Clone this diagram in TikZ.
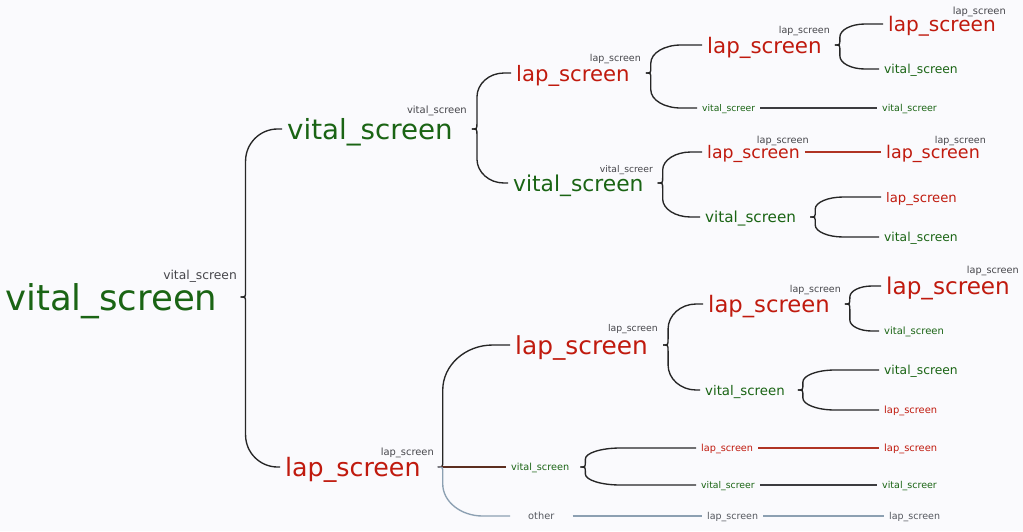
\documentclass[tikz,border=0pt]{standalone}
\usepackage{fontspec}
\setmainfont{DejaVu Sans}
\usetikzlibrary{calc}
\definecolor{lapred}{RGB}{192,26,14}
\definecolor{vitalgreen}{RGB}{26,100,20}
\definecolor{taggray}{RGB}{70,70,75}
\definecolor{othergray}{RGB}{85,88,95}
\definecolor{pagebg}{RGB}{250,250,253}
\definecolor{redline}{RGB}{176,52,36}
\definecolor{greyline}{RGB}{60,60,64}
\definecolor{blueline}{RGB}{140,160,178}
\definecolor{brownline}{RGB}{92,46,32}

\begin{document}
\begin{tikzpicture}[x=1pt, y=1pt,
  word/.style={anchor=west, inner xsep=5pt, inner ysep=0pt, text depth=0pt, font=\fontsize{#1}{#1}\selectfont},
  lap/.style={word=#1, text=lapred},
  vital/.style={word=#1, text=vitalgreen},
  wtag/.style={anchor=east, inner sep=0pt, text depth=0pt, text=taggray, font=\fontsize{#1}{#1}\selectfont},
  link/.style={draw=black!85, line width=1.35pt},
  branch/.style n args={3}{to path={let \p1=($(\tikztostart)+(#3,0pt)$), \p2=(\tikztotarget), \n1={sign(\y2-(\y1))} in
    (\p1) .. controls ({\x1+5pt},\y1) .. ({\x1+5pt},{\y1+(\n1)*6pt})
    -- ({\x1+5pt},{\y2-(\n1)*#1}) .. controls ({\x1+5pt},{\y2-(\n1)*0.45*#1}) and ({\x1+5pt+0.45*#2},\y2) .. ({\x1+5pt+#2},\y2) -- (\p2)}}]
\useasboundingbox (0,0) rectangle (1023,-531);
\fill[pagebg] (0,0) rectangle (1023,-531);
% root and first level
\node[vital=35.5] at (0,-297) (r) {vital\_screen};
\node[wtag=12.3] at (237,-275) (tr) {vital\_screen};
\node[vital=27.7] at (282,-129) (a) {vital\_screen};
\node[wtag=10] at (467,-110) (ta) {vital\_screen};
\node[lap=25.3] at (280,-467) (b) {lap\_screen};
\node[wtag=9.9] at (434,-452) (tb) {lap\_screen};
\draw[link] (r.east) to[branch={32pt}{32pt}{18pt}] (a.west);
\draw[link] (r.east) to[branch={32pt}{32pt}{18pt}] (b.west);
% second level
\node[lap=21.2] at (511,-73) (aa) {lap\_screen};
\node[wtag=9.5] at (641,-58) (taa) {lap\_screen};
\node[vital=21.8] at (508,-183) (ab) {vital\_screen};
\node[wtag=9.2] at (653,-169) (tab) {vital\_screer};
\draw[link] (a.east) to[branch={24pt}{27pt}{14pt}] (aa.west);
\draw[link] (a.east) to[branch={24pt}{27pt}{14pt}] (ab.west);
\node[lap=24.8] at (510,-345) (ba) {lap\_screen};
\node[wtag=9.3] at (658,-328) (tba) {lap\_screen};
\node[vital=9.7] at (506,-467) (bb) {vital\_screen};
\node[word=9.8, inner xsep=18pt, text=othergray] at (510,-516) (bc) {other};
\draw[link] (b.east) to[branch={45pt}{50pt}{12pt}] (ba.west);
\draw[link, draw=brownline, line width=1.9pt] (b.east) to[branch={30pt}{30pt}{12pt}] (bb.west);
\draw[link, draw=blueline] (b.east) to[branch={32pt}{40pt}{12pt}] (bc.west);
% third level
\node[lap=21.4] at (702,-45) (aaa) {lap\_screen};
\node[wtag=9.5] at (830,-30) (taaa) {lap\_screen};
\node[vital=9.2] at (697,-108) (aab) {vital\_screer};
\draw[link] (aa.east) to[branch={18pt}{30pt}{11pt}] (aaa.west);
\draw[link] (aa.east) to[branch={18pt}{30pt}{11pt}] (aab.west);
\node[lap=17.3] at (702,-152) (aba) {lap\_screen};
\node[wtag=9.7] at (809,-140) (taba) {lap\_screen};
\node[vital=15.2] at (700,-217) (abb) {vital\_screen};
\draw[link] (ab.east) to[branch={18pt}{28pt}{9pt}] (aba.west);
\draw[link] (ab.east) to[branch={18pt}{28pt}{9pt}] (abb.west);
\node[lap=22.7] at (703,-304) (baa) {lap\_screen};
\node[wtag=9.5] at (841,-289) (tbaa) {lap\_screen};
\node[vital=13.3] at (700,-390) (bab) {vital\_screen};
\draw[link] (ba.east) to[branch={25pt}{28pt}{10pt}] (baa.west);
\draw[link] (ba.east) to[branch={25pt}{28pt}{10pt}] (bab.west);
\node[lap=9.7] at (696,-448) (bba) {lap\_screen};
\node[vital=9.3] at (696,-485) (bbb) {vital\_screer};
\draw[link] (bb.east) to[branch={11pt}{35pt}{6pt}] (bba.west);
\draw[link] (bb.east) to[branch={11pt}{35pt}{6pt}] (bbb.west);
\node[word=9.5, text=othergray] at (702,-516) (bca) {lap\_screen};
\draw[link, draw=blueline] (bc.east) -- (bca.west);
% fourth level
\node[lap=20.1] at (883,-24) (aaaa) {lap\_screen};
\node[wtag=9.9] at (1006,-11) (taaaa) {lap\_screen};
\node[vital=12.3] at (879,-69) (aaab) {vital\_screen};
\draw[link] (aaa.east) to[branch={13pt}{25pt}{8pt}] (aaaa.west);
\draw[link] (aaa.east) to[branch={13pt}{25pt}{8pt}] (aaab.west);
\node[vital=9.5] at (877,-108) (aaba) {vital\_screer};
\draw[link, draw=greyline] (aab.east) -- (aaba.west);
\node[lap=17.5] at (881,-152) (abaa) {lap\_screen};
\node[wtag=9.5] at (986,-140) (tabaa) {lap\_screen};
\draw[link, draw=redline] (aba.east) -- (abaa.west);
\node[lap=13.2] at (881,-197) (abba) {lap\_screen};
\node[vital=12.3] at (879,-237) (abbb) {vital\_screen};
\draw[link] (abb.east) to[branch={12pt}{28pt}{9pt}] (abba.west);
\draw[link] (abb.east) to[branch={12pt}{28pt}{9pt}] (abbb.west);
\node[lap=23.1] at (881,-286) (baaa) {lap\_screen};
\node[wtag=9.7] at (1019,-270) (tbaaa) {lap\_screen};
\node[vital=10] at (879,-331) (baab) {vital\_screen};
\draw[link] (baa.east) to[branch={11pt}{22pt}{10pt}] (baaa.west);
\draw[link] (baa.east) to[branch={11pt}{22pt}{10pt}] (baab.west);
\node[vital=12.3] at (879,-370) (baba) {vital\_screen};
\node[lap=9.9] at (879,-410) (babb) {lap\_screen};
\draw[link] (bab.east) to[branch={12pt}{32pt}{8pt}] (baba.west);
\draw[link] (bab.east) to[branch={12pt}{32pt}{8pt}] (babb.west);
\node[lap=9.9] at (879,-448) (bbaa) {lap\_screen};
\draw[link, draw=redline] (bba.east) -- (bbaa.west);
\node[vital=9.5] at (877,-485) (bbba) {vital\_screer};
\draw[link, draw=greyline] (bbb.east) -- (bbba.west);
\node[word=9.5, text=othergray] at (884,-516) (bcaa) {lap\_screen};
\draw[link, draw=blueline] (bca.east) -- (bcaa.west);
\end{tikzpicture}
\end{document}
